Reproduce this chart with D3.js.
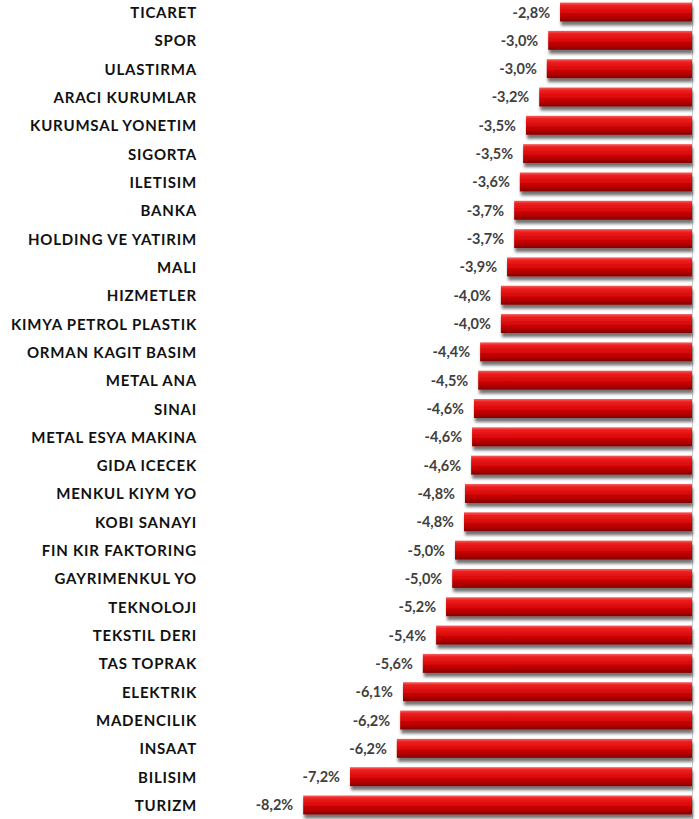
<!DOCTYPE html>
<html><head><meta charset="utf-8">
<script src="https://cdn.jsdelivr.net/npm/d3@7"></script>
<style>body{margin:0;background:#fff}</style>
</head><body>
<script>
const categories = ["TICARET","SPOR","ULASTIRMA","ARACI KURUMLAR","KURUMSAL YONETIM","SIGORTA","ILETISIM","BANKA","HOLDING VE YATIRIM","MALI","HIZMETLER","KIMYA PETROL PLASTIK","ORMAN KAGIT BASIM","METAL ANA","SINAI","METAL ESYA MAKINA","GIDA ICECEK","MENKUL KIYM YO","KOBI SANAYI","FIN KIR FAKTORING","GAYRIMENKUL YO","TEKNOLOJI","TEKSTIL DERI","TAS TOPRAK","ELEKTRIK","MADENCILIK","INSAAT","BILISIM","TURIZM"];
const values = [-2.79,-3.04,-3.07,-3.23,-3.51,-3.57,-3.64,-3.76,-3.76,-3.91,-4.04,-4.04,-4.48,-4.52,-4.61,-4.65,-4.67,-4.80,-4.82,-5.01,-5.07,-5.20,-5.41,-5.69,-6.11,-6.17,-6.24,-7.23,-8.22];
const labels = ["-2,8%","-3,0%","-3,0%","-3,2%","-3,5%","-3,5%","-3,6%","-3,7%","-3,7%","-3,9%","-4,0%","-4,0%","-4,4%","-4,5%","-4,6%","-4,6%","-4,6%","-4,8%","-4,8%","-5,0%","-5,0%","-5,2%","-5,4%","-5,6%","-6,1%","-6,2%","-6,2%","-7,2%","-8,2%"];

const W = 699, H = 819;
const svg = d3.select("body").append("svg").attr("width", W).attr("height", H);
const defs = svg.append("defs");
const g = defs.append("linearGradient").attr("id","barGrad").attr("x1",0).attr("y1",0).attr("x2",0).attr("y2",1);
[[0,"#f56060"],[0.15,"#ee2020"],[0.5,"#d80808"],[0.8,"#b00000"],[1,"#800000"]].forEach(([o,c])=>g.append("stop").attr("offset",o).attr("stop-color",c));
const f = defs.append("filter").attr("id","shadow").attr("x","-5%").attr("y","-30%").attr("width","115%").attr("height","200%");
f.append("feDropShadow").attr("dx",1).attr("dy",4).attr("stdDeviation",1.8).attr("flood-color","#000").attr("flood-opacity",0.55);

const x = d3.scaleLinear().domain([-9, 0]).range([692 - 9*47.3, 692]);
const y = d3.scaleBand().domain(categories).range([-0.3, 817.3]).paddingInner(0.33).paddingOuter(0.1);

svg.append("line").attr("x1",692.5).attr("x2",692.5).attr("y1",0).attr("y2",H)
  .attr("stroke","#d0d0d0").attr("stroke-width",1);

const rows = svg.append("g").selectAll("g").data(categories).join("g");
rows.append("rect")
  .attr("x", (d,i)=>x(values[i]))
  .attr("y", d=>y(d))
  .attr("width", (d,i)=>x(0)-x(values[i]))
  .attr("height", y.bandwidth())
  .attr("fill","url(#barGrad)")
  .attr("filter","url(#shadow)");
rows.append("text")
  .attr("x", 197).attr("y", d=>y(d)+y.bandwidth()/2)
  .attr("text-anchor","end").attr("dominant-baseline","central")
  .attr("font-family","Lato, 'Open Sans', sans-serif").attr("font-weight","bold").attr("font-size",15)
  .attr("letter-spacing","0.8px")
  .attr("fill","#111").text(d=>d);
rows.append("text")
  .attr("x", (d,i)=>x(values[i])-10).attr("y", d=>y(d)+y.bandwidth()/2)
  .attr("text-anchor","end").attr("dominant-baseline","central")
  .attr("font-family","Lato, 'Open Sans', sans-serif").attr("font-weight","bold").attr("font-size",14.5)
  .attr("fill","#404040").text((d,i)=>labels[i]);
</script>
</body></html>
